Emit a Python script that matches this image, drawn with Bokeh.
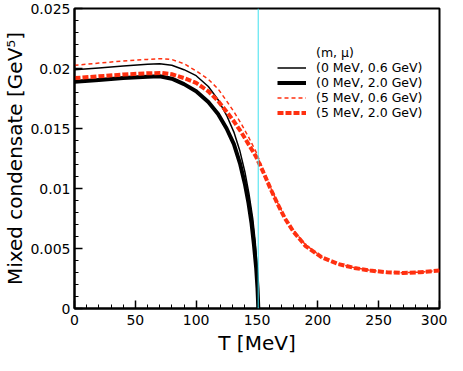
from bokeh.plotting import figure
from bokeh.models import Legend, LegendItem, Span, FixedTicker
from bokeh.embed import file_html
from bokeh.resources import INLINE

# ---- data ----
T_a = [0, 20, 40, 60, 70, 80, 90, 100, 110, 118, 125, 131, 136, 140, 143.5, 146.5, 148.5, 150, 150.8, 151.3]
v_a = [0.0199, 0.02005, 0.0202, 0.02035, 0.0204, 0.02027, 0.0199, 0.0194, 0.0185, 0.0174, 0.0161, 0.0147,
       0.0131, 0.0114, 0.0095, 0.0075, 0.0056, 0.0036, 0.0018, 0.0]

T_b = [0, 20, 40, 60, 70, 80, 90, 100, 110, 118, 125, 131, 136, 140, 143, 145.5, 147.5, 149.3, 150.4, 151.1]
v_b = [0.0189, 0.01905, 0.0192, 0.01932, 0.01935, 0.01915, 0.0187, 0.0181, 0.0172, 0.0162, 0.0150, 0.0137,
       0.0121, 0.0104, 0.0088, 0.0071, 0.0053, 0.0034, 0.0017, 0.0]

T_c = [0, 20, 40, 60, 72, 80, 90, 100, 110, 118, 125, 131, 137, 143, 149, 155, 161, 167, 173, 180, 190,
       203, 217, 230, 243, 257, 270, 284, 300]
v_c = [0.02027, 0.02045, 0.02063, 0.02076, 0.02082, 0.02075, 0.0204, 0.0198, 0.0191, 0.0183, 0.0173, 0.0164,
       0.0154, 0.0143, 0.0131, 0.0116, 0.0101, 0.0088, 0.0076, 0.0065, 0.0053, 0.0043, 0.00372, 0.0034,
       0.00318, 0.00304, 0.00298, 0.00303, 0.00317]

T_d = [0, 20, 40, 60, 72, 80, 90, 100, 110, 118, 125, 131, 137, 143, 149, 155, 161, 167, 173, 180, 190,
       203, 217, 230, 243, 257, 270, 284, 300]
v_d = [0.0192, 0.01935, 0.0195, 0.0196, 0.01963, 0.01952, 0.0192, 0.0188, 0.0181, 0.0173, 0.0164, 0.0156,
       0.0147, 0.0137, 0.0127, 0.0114, 0.0100, 0.0087, 0.0075, 0.0064, 0.0052, 0.00428, 0.0037, 0.00338,
       0.00316, 0.00302, 0.00296, 0.00302, 0.00316]

T_critical = 151

legend_title = "(m, \u03bc)"
labels = ["(0 MeV, 0.6 GeV)", "(0 MeV, 2.0 GeV)", "(5 MeV, 0.6 GeV)", "(5 MeV, 2.0 GeV)"]

x_ticks = [0, 50, 100, 150, 200, 250, 300]
x_minor = list(range(0, 301, 10))
y_ticks = [0, 0.005, 0.01, 0.015, 0.02, 0.025]
y_tick_labels = ["0", "0.005", "0.01", "0.015", "0.02", "0.025"]
y_minor = [i * 0.001 for i in range(0, 26)]

FONT = "DejaVu Sans"
RED = "#ff3010"

p = figure(width=447, height=358, x_range=(0, 300), y_range=(0, 0.025),
           output_backend="svg", toolbar_location=None,
           min_border_left=62, min_border_right=8, min_border_top=8, min_border_bottom=50)
p.grid.visible = False
p.outline_line_color = "black"
p.outline_line_width = 2

vline = Span(location=T_critical, dimension="height", line_color="#3ee0ee", line_width=1)
p.add_layout(vline)

r0 = p.line([], [], line_alpha=0)
r1 = p.line(T_a, v_a, line_color="black", line_width=1.5)
r2 = p.line(T_b, v_b, line_color="black", line_width=4)
r3 = p.line(T_c, v_c, line_color=RED, line_width=1.5, line_dash="4 3")
r4 = p.line(T_d, v_d, line_color=RED, line_width=4, line_dash="6 2")

legend = Legend(items=[LegendItem(label=legend_title, renderers=[r0]),
                       LegendItem(label=labels[0], renderers=[r1]),
                       LegendItem(label=labels[1], renderers=[r2]),
                       LegendItem(label=labels[2], renderers=[r3]),
                       LegendItem(label=labels[3], renderers=[r4])],
                location=(203, 188))
legend.padding = 0
legend.margin = 0
legend.spacing = 0
legend.label_height = 15
legend.glyph_height = 15
legend.glyph_width = 29
legend.label_standoff = 10
legend.border_line_alpha = 0
legend.background_fill_alpha = 0
legend.label_text_font = FONT
legend.label_text_font_size = "12.5px"
legend.label_text_color = "black"
p.add_layout(legend)

for ax in (p.xaxis[0], p.yaxis[0]):
    ax.axis_line_width = 2
    ax.axis_line_color = "black"
    ax.major_tick_in = 8
    ax.major_tick_out = 0
    ax.minor_tick_in = 4
    ax.minor_tick_out = 0
    ax.major_tick_line_width = 1.5
    ax.minor_tick_line_width = 1
    ax.major_label_text_font = FONT
    ax.major_label_text_font_size = "14px"
    ax.major_label_text_color = "black"
    ax.axis_label_text_font = FONT
    ax.axis_label_text_font_size = "20px"
    ax.axis_label_text_font_style = "normal"
    ax.axis_label_text_color = "black"

p.xaxis.ticker = FixedTicker(ticks=x_ticks, minor_ticks=x_minor)
p.yaxis.ticker = FixedTicker(ticks=y_ticks, minor_ticks=y_minor)
p.yaxis.major_label_overrides = {t: s for t, s in zip(y_ticks, y_tick_labels)}
p.xaxis.axis_label = "T [MeV]"
p.yaxis.axis_label = "Mixed condensate [GeV\u2075]"
p.xaxis.major_label_standoff = 6
p.yaxis.major_label_standoff = 4
p.xaxis.axis_label_standoff = 3
p.yaxis.axis_label_standoff = 0

open("out.html", "w").write(file_html(p, INLINE))
